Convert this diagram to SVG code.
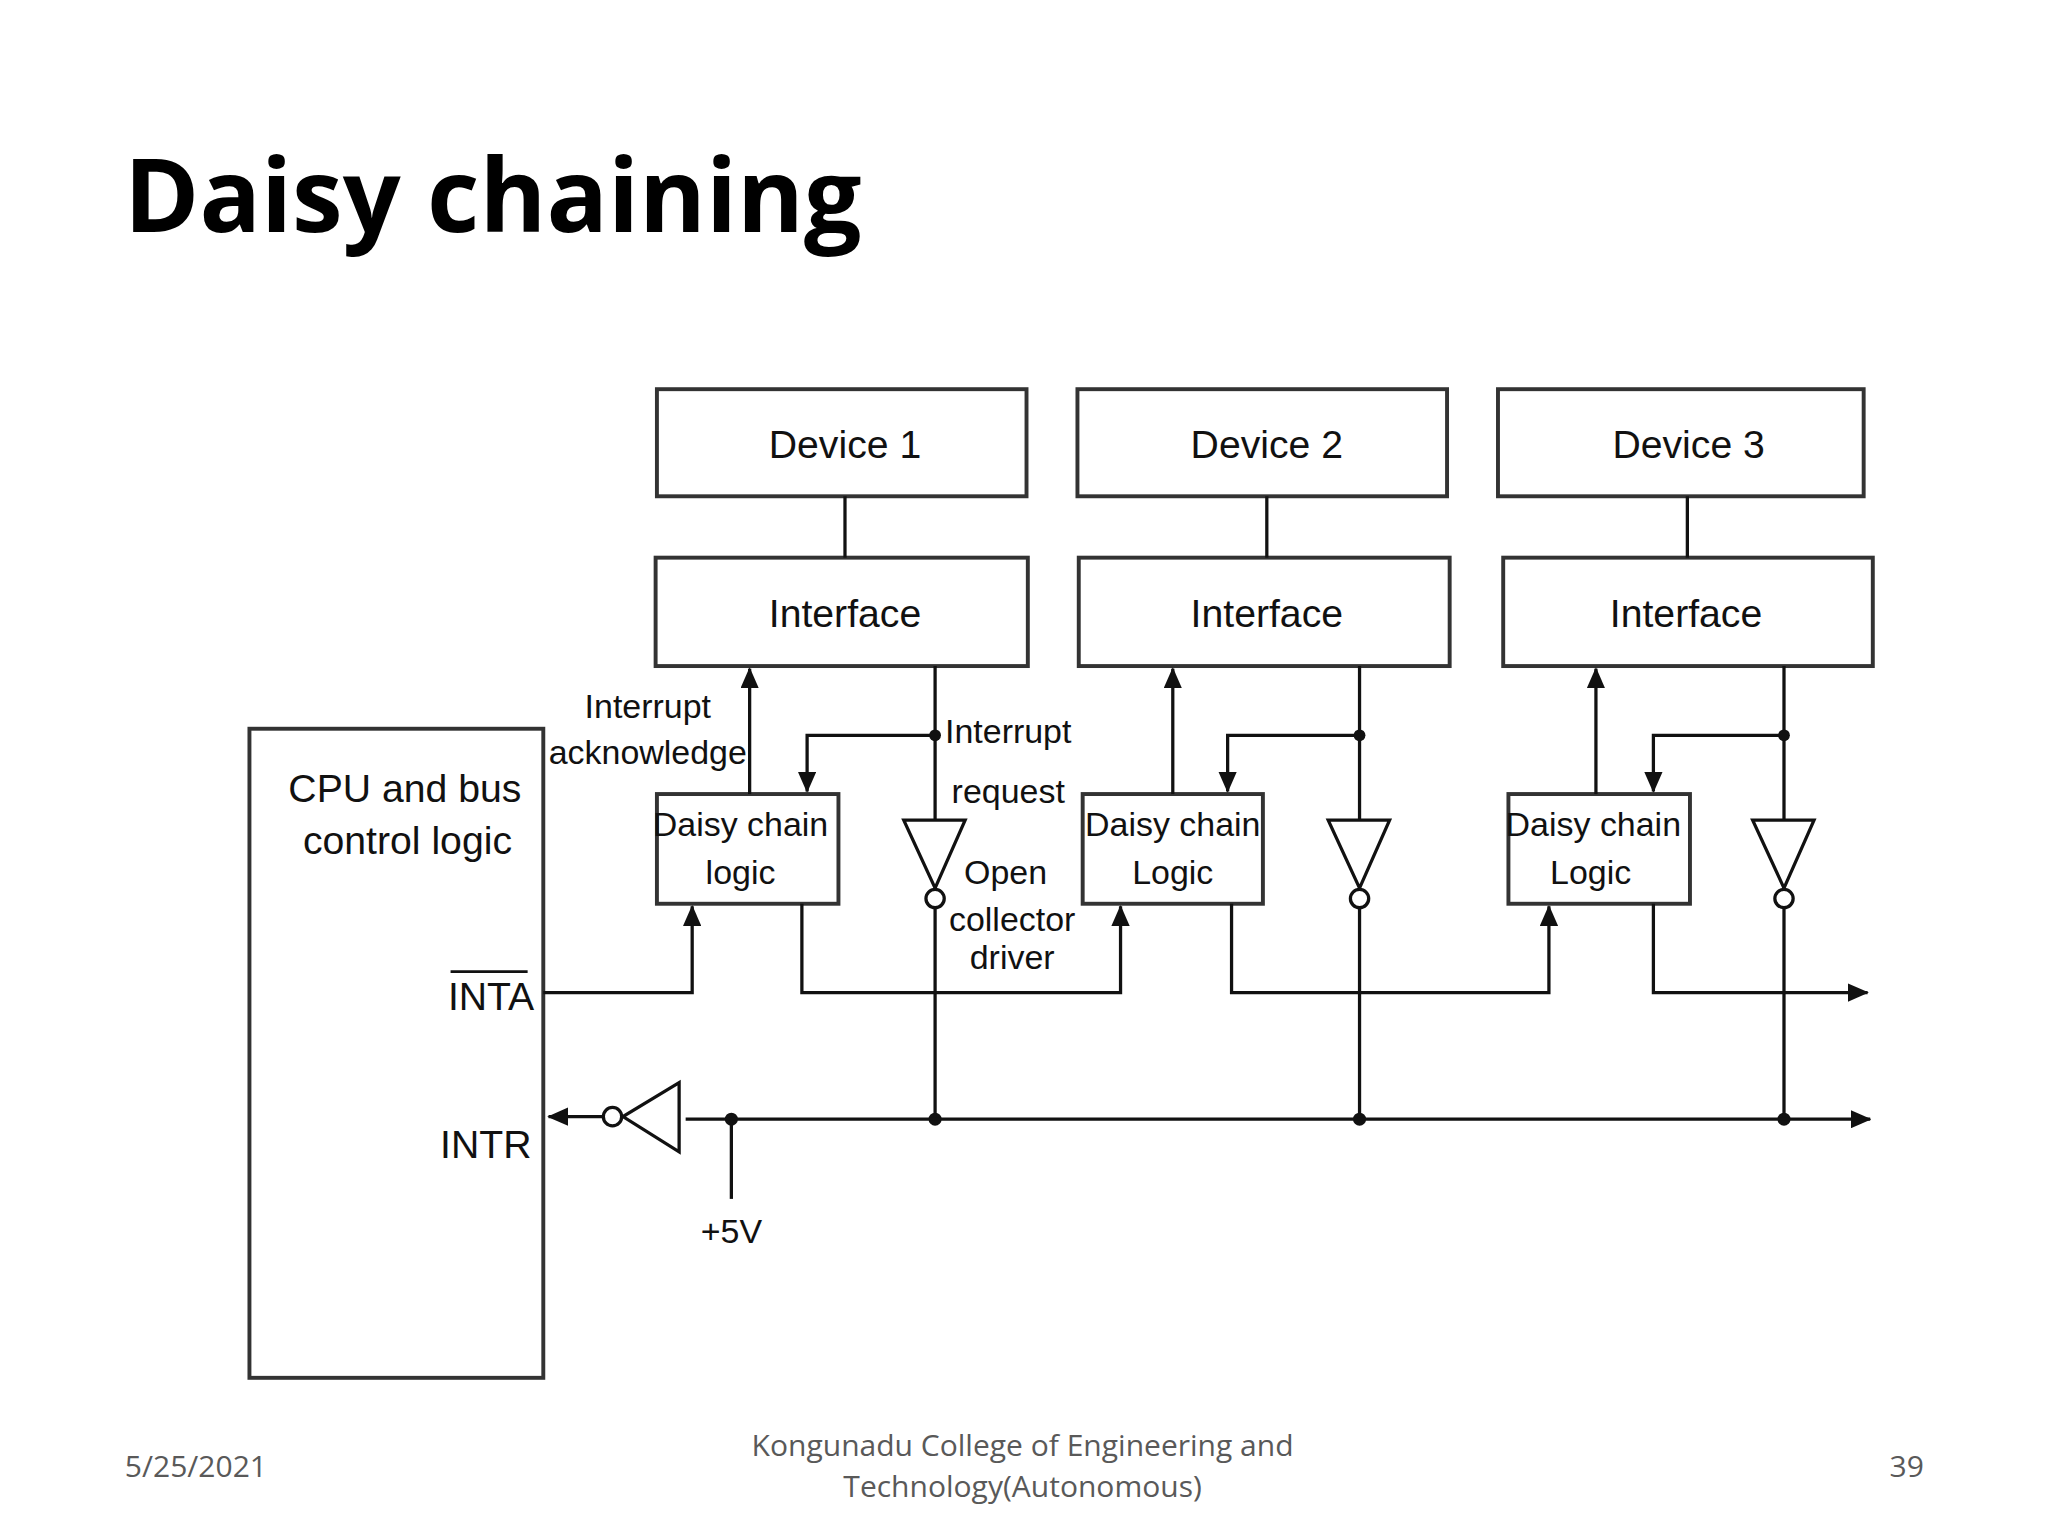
<svg xmlns="http://www.w3.org/2000/svg" width="2048" height="1536" viewBox="0 0 2048 1536">
<defs>
<marker id="ah" markerWidth="16" markerHeight="14" refX="15" refY="7" orient="auto" markerUnits="userSpaceOnUse"><path d="M0,0 L16,7 L0,14 Z" fill="#111"/></marker>
<style>
.b{fill:#fff;stroke:#333;stroke-width:3}
.l{fill:none;stroke:#111;stroke-width:2.5}
.t{font-family:"Liberation Sans",Arial,sans-serif;font-size:30px;fill:#111;text-anchor:middle}
.s{font-family:"Liberation Sans",Arial,sans-serif;font-size:26px;fill:#111;text-anchor:middle}
.f{font-family:"Open Sans","Liberation Sans",sans-serif;font-size:23px;fill:#595959;text-anchor:middle}
</style>
</defs>
<rect width="2048" height="1536" fill="#fff"/>
<g transform="scale(1.306)">
<text x="95" y="178" font-family="'Open Sans','Liberation Sans',sans-serif" font-weight="bold" font-size="78" fill="#000">Daisy chaining</text>
<g id="dev1"><rect class="b" x="503" y="298" width="283" height="82"/><text class="t" x="647" y="351">Device 1</text></g>
<g id="dev2"><rect class="b" x="825" y="298" width="283" height="82"/><text class="t" x="970" y="351">Device 2</text></g>
<g id="dev3"><rect class="b" x="1147" y="298" width="280" height="82"/><text class="t" x="1293" y="351">Device  3</text></g>
<g id="if1"><rect class="b" x="502" y="427" width="285" height="83"/><text class="t" x="647" y="480">Interface</text></g>
<g id="if2"><rect class="b" x="826" y="427" width="284" height="83"/><text class="t" x="970" y="480">Interface</text></g>
<g id="if3"><rect class="b" x="1151" y="427" width="283" height="83"/><text class="t" x="1291" y="480">Interface</text></g>
<g id="cpu"><rect class="b" x="191" y="558" width="225" height="497"/>
<text class="t" x="310" y="614">CPU and bus</text><text class="t" x="312" y="654">control logic</text>
<text class="t" x="376" y="773">INTA</text><line x1="345" y1="744" x2="404" y2="744" stroke="#111" stroke-width="2"/>
<text class="t" x="372" y="887">INTR</text></g>
<g id="dc1"><rect class="b" x="503" y="608" width="139" height="84"/><text class="s" x="567" y="640">Daisy chain</text><text class="s" x="567" y="677">logic</text></g>
<g id="dc2"><rect class="b" x="829" y="608" width="138" height="84"/><text class="s" x="898" y="640">Daisy chain</text><text class="s" x="898" y="677">Logic</text></g>
<g id="dc3"><rect class="b" x="1155" y="608" width="139" height="84"/><text class="s" x="1220" y="640">Daisy chain</text><text class="s" x="1218" y="677">Logic</text></g>
<g id="connectors">
<line class="l" x1="647" y1="380" x2="647" y2="427"/><line class="l" x1="970" y1="380" x2="970" y2="427"/><line class="l" x1="1292" y1="380" x2="1292" y2="427"/>
<line class="l" x1="574" y1="608" x2="574" y2="512" marker-end="url(#ah)"/>
<line class="l" x1="898" y1="608" x2="898" y2="512" marker-end="url(#ah)"/>
<line class="l" x1="1222" y1="608" x2="1222" y2="512" marker-end="url(#ah)"/>
<path class="l" d="M716,510 V628 M716,563 H618 V606" marker-end="url(#ah)"/>
<path class="l" d="M1041,510 V628 M1041,563 H940 V606" marker-end="url(#ah)"/>
<path class="l" d="M1366,510 V628 M1366,563 H1266 V606" marker-end="url(#ah)"/>
<g fill="#111"><circle cx="716" cy="563" r="4.5"/><circle cx="1041" cy="563" r="4.5"/><circle cx="1366" cy="563" r="4.5"/>
<circle cx="716" cy="857" r="5"/><circle cx="1041" cy="857" r="5"/><circle cx="1366" cy="857" r="5"/><circle cx="560" cy="857" r="5"/></g>
<g fill="#fff" stroke="#111" stroke-width="2.5">
<path d="M692,628 H739 L716,680 Z"/><circle cx="716" cy="688" r="7"/>
<path d="M1017,628 H1064 L1041,680 Z"/><circle cx="1041" cy="688" r="7"/>
<path d="M1342,628 H1389 L1366,680 Z"/><circle cx="1366" cy="688" r="7"/>
<path d="M520,829 V882 L477,855 Z"/><circle cx="469" cy="855" r="7"/>
</g>
<path class="l" d="M716,695 V857 M1041,695 V857 M1366,695 V857"/>
<path class="l" d="M416,760 H530 V694" marker-end="url(#ah)"/>
<path class="l" d="M614,692 V760 H858 V694" marker-end="url(#ah)"/>
<path class="l" d="M943,692 V760 H1186 V694" marker-end="url(#ah)"/>
<path class="l" d="M1266,692 V760 H1430" marker-end="url(#ah)"/>
<line class="l" x1="525" y1="857" x2="1432" y2="857" marker-end="url(#ah)"/>
<line class="l" x1="462" y1="855" x2="420" y2="855" marker-end="url(#ah)"/>
<line class="l" x1="560" y1="857" x2="560" y2="918"/>
</g>
<text class="s" x="496" y="550">Interrupt</text><text class="s" x="496" y="585">acknowledge</text>
<text class="s" x="772" y="569">Interrupt</text><text class="s" x="772" y="615">request</text>
<text class="s" x="770" y="677">Open</text><text class="s" x="775" y="713">collector</text><text class="s" x="775" y="742">driver</text>
<text class="s" x="560" y="952" font-size="24">+5V</text>
<text class="f" x="150" y="1131">5/25/2021</text>
<text class="f" x="783" y="1115">Kongunadu College of Engineering and</text>
<text class="f" x="783" y="1146">Technology(Autonomous)</text>
<text class="f" x="1460" y="1131">39</text>
</g>
</svg>
